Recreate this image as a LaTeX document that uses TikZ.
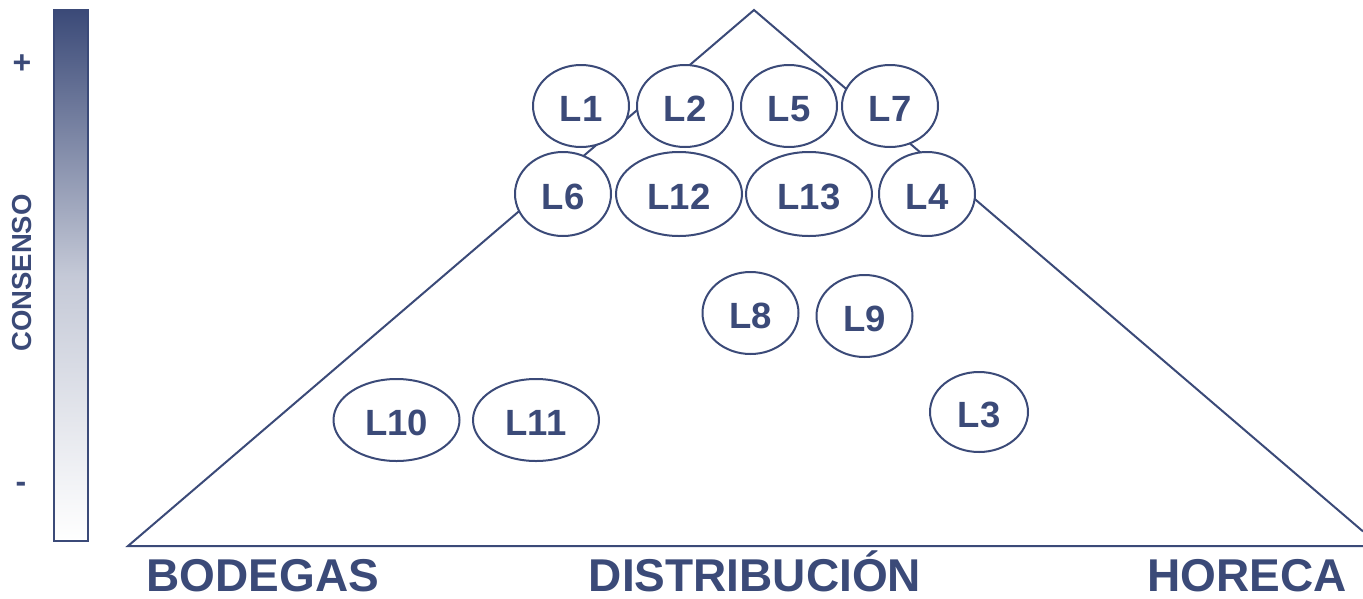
\documentclass[tikz,border=0pt]{standalone}
\usepackage{fontspec}
\setmainfont{Liberation Sans}
\usetikzlibrary{shapes.geometric}
\definecolor{navy}{RGB}{59,74,120}
\begin{document}
\begin{tikzpicture}[x=1pt,y=-1pt,
  lbl/.style={ellipse,draw=navy,line width=2pt,fill=white,inner sep=0pt,
    text=navy,font=\fontsize{36.5}{36.5}\selectfont\bfseries,text height=30pt,text depth=0pt},
  small/.style={lbl,minimum width=96pt,minimum height=82pt},
  wide/.style={lbl,minimum width=126pt,minimum height=83pt},
  axis/.style={text=navy,font=\fontsize{46}{46}\selectfont\bfseries,inner sep=0pt,anchor=base,text depth=0pt}]
\useasboundingbox (0,0) rectangle (1363,598);
% gradient bar
\shade[top color=navy,bottom color=white,middle color={navy!30!white}] (54,10) rectangle (88,541);
\draw[navy,line width=1.6pt] (54,10) rectangle (88,541);
\node[text=navy,font=\fontsize{32}{32}\selectfont\bfseries,inner sep=0pt] (plus) at (22,64) {+};
\node[text=navy,font=\fontsize{32}{32}\selectfont\bfseries,inner sep=0pt] (minus) at (21,487) {-};
\node[text=navy,font=\fontsize{27.5}{27.5}\selectfont\bfseries,inner sep=0pt,rotate=90] (cons) at (22.5,273) {CONSENSO};
% triangle
\draw[navy,line width=2pt,line join=miter] (1363,531.4) -- (754,10) -- (128,546) -- (1363,546);
% ellipses
\node[small] (L1) at (581,106) {L1};
\node[small] (L2) at (685,106) {L2};
\node[small] (L5) at (789,106) {L5};
\node[small] (L7) at (890,106) {L7};
\node[small,minimum height=84pt] (L6) at (563,194) {L6};
\node[wide,minimum height=84pt] (L12) at (679,194) {L12};
\node[wide,minimum height=84pt] (L13) at (809,194) {L13};
\node[small,minimum height=84pt] (L4) at (927,194) {L4};
\node[small] (L8) at (750.5,313) {L8};
\node[small] (L9) at (864.5,316) {L9};
\node[wide,minimum height=82pt] (L10) at (396.5,420) {L10};
\node[wide,minimum height=82pt] (L11) at (536,420) {L11};
\node[small,minimum width=98pt,minimum height=80pt] (L3) at (979,412) {L3};
% axis labels
\node[axis] (bod) at (263,591.5) {BODEGAS};
\node[axis] (dis) at (755,591.5) {DISTRIBUCIÓN};
\node[axis] (hor) at (1247,591.5) {HORECA};
\end{tikzpicture}
\end{document}
